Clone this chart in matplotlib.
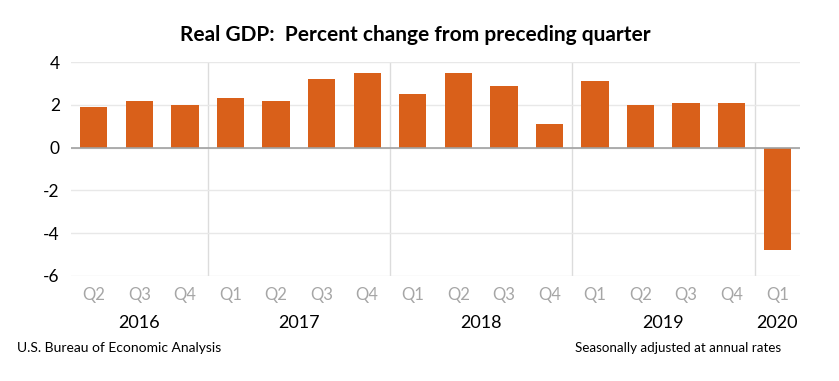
import numpy as np
import matplotlib.pyplot as plt
from matplotlib.transforms import blended_transform_factory

quarters = ["Q2", "Q3", "Q4",
            "Q1", "Q2", "Q3", "Q4",
            "Q1", "Q2", "Q3", "Q4",
            "Q1", "Q2", "Q3", "Q4",
            "Q1"]
years = ["2016", "2017", "2018", "2019", "2020"]
year_counts = [3, 4, 4, 4, 1]
gdp_change = [1.9, 2.2, 2.0, 2.3, 2.2, 3.2, 3.5, 2.5, 3.5, 2.9, 1.1, 3.1, 2.0, 2.1, 2.1, -4.8]

BAR_COLOR = "#D9601A"

plt.rcParams["font.family"] = ["Lato", "DejaVu Sans"]

fig = plt.figure(figsize=(8.39, 3.81), dpi=100)
ax = fig.add_axes([0.0846, 0.2756, 0.869, 0.5614])

x = np.arange(len(gdp_change))
ax.bar(x, gdp_change, width=0.6, color=BAR_COLOR, zorder=3)

ax.set_xlim(-0.5, len(gdp_change) - 0.5)
ax.set_ylim(-6, 4)
ax.set_yticks([-6, -4, -2, 0, 2, 4])
ax.set_yticklabels(["-6", "-4", "-2", "0", "2", "4"], fontsize=12.5)
ax.grid(axis="y", color="#E8E8E8", linewidth=1, zorder=0)
ax.axhline(0, color="#A0A0A0", linewidth=1.2, zorder=4)

# year separators
edges = np.cumsum(year_counts)[:-1] - 0.5
for e in edges:
    ax.axvline(e, color="#DCDCDC", linewidth=1, zorder=1)

ax.set_xticks(x)
ax.set_xticklabels(quarters, fontsize=12, color="#A6A6A6")
ax.tick_params(axis="both", length=0, pad=8)
for s in ax.spines.values():
    s.set_visible(False)

trans = blended_transform_factory(ax.transData, fig.transFigure)
start = 0
for yr, n in zip(years, year_counts):
    center = start + (n - 1) / 2
    ax.text(center, 1 - 323 / 381, yr, transform=trans, ha="center", va="center",
            fontsize=13, color="black")
    start += n

fig.text(0.495, 1 - 35 / 381, "Real GDP:  Percent change from preceding quarter",
         ha="center", va="center", fontsize=15, fontweight="bold")
fig.text(17 / 839, 1 - 348 / 381, "U.S. Bureau of Economic Analysis",
         ha="left", va="center", fontsize=10)
fig.text(781 / 839, 1 - 348 / 381, "Seasonally adjusted at annual rates",
         ha="right", va="center", fontsize=9.6)

fig.savefig("out.png", dpi=100)
